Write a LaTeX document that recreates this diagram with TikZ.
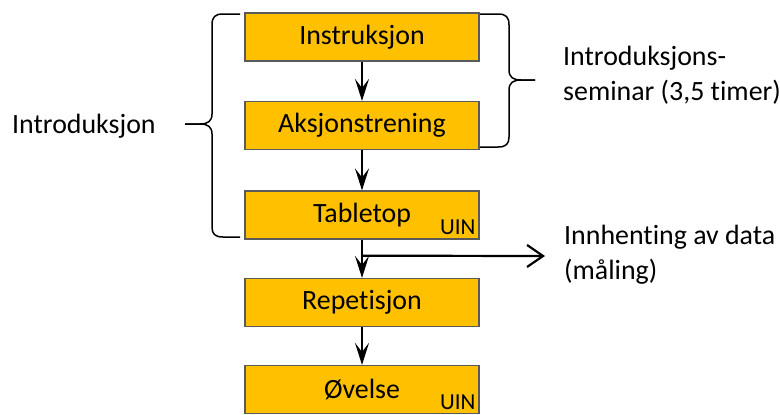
\documentclass[tikz,border=0pt]{standalone}
\usepackage{fontspec}
\setmainfont[Ligatures=NoCommon]{Carlito}
\usetikzlibrary{arrows.meta,calc}
\definecolor{boxfill}{HTML}{FFC000}
\definecolor{boxline}{HTML}{5A5A5A}
\tikzset{
  stepbox/.style={draw=boxline, line width=1.2bp, fill=boxfill,
    minimum width=234bp, minimum height=48bp, inner sep=0pt,
    font=\fontsize{28}{34}\selectfont},
  tag/.style={font=\fontsize{23}{27}\selectfont, anchor=base east, inner sep=0pt},
  flow/.style={line width=2.2bp, -{Stealth[length=22bp, width=14bp, inset=9bp]}},
  branch/.style={line width=2.2bp, -{Straight Barb[length=16bp, width=22bp, line width=2.2bp]}},
  brace/.style={line width=1.5bp, line join=round},
  label/.style={font=\fontsize{28}{35}\selectfont, inner sep=0pt, align=left}
}
\begin{document}
\begin{tikzpicture}[x=1bp, y=-1bp]
  \useasboundingbox (0,0) rectangle (780,414);
  \clip (0,0) rectangle (780,414);

  % process steps
  \node[stepbox] (b1) at (362,37)    {Instruksjon};
  \node[stepbox] (b2) at (362,125.5) {Aksjonstrening};
  \node[stepbox] (b3) at (362,215)   {Tabletop};
  \node[stepbox] (b4) at (362,302.5) {Repetisjon};
  \node[stepbox] (b5) at (362,389.5) {Øvelse};

  % UIN tags in the lower right corners
  \node[tag] (u3) at ($(b3.south east)+(-4,-5)$) {UIN};
  \node[tag] (u5) at ($(b5.south east)+(-4,-5)$) {UIN};

  % flow between the steps
  \draw[flow] (b1.south) -- (b2.north);
  \draw[flow] (b2.south) -- (b3.north);
  \draw[flow] (b3.south) -- (b4.north);
  \draw[flow] (b4.south) -- (b5.north);

  % data collection branch
  \coordinate (br) at ($(b3.south)!0.42!(b4.north)$);
  \coordinate (dataend) at (545,256);
  \draw[branch] (br) -- (dataend);
  % (multi-line nodes sit on the baseline of their last line)
  \node[label, anchor=base west] (data) at (564,279) {Innhenting av data\\(måling)};

  % left brace: introduction
  \draw[brace] (240,14) -- (223,14) .. controls (215,14) and (212,17) .. (212,25)
    -- (212,114) .. controls (212,121) and (208,124) .. (200,124) -- (185,124);
  \draw[brace] (185,124) -- (200,124) .. controls (208,124) and (212,127) .. (212,134)
    -- (212,227) .. controls (212,234) and (215,237) .. (223,237) -- (240,237);
  \node[label, anchor=base west] (intro) at (12,133) {Introduksjon};

  % right brace: seminar
  \draw[brace] (480,14) -- (498,14) .. controls (506,14) and (509,17) .. (509,25)
    -- (509,70) .. controls (509,77) and (513,80) .. (521,80) -- (535,80);
  \draw[brace] (535,80) -- (521,80) .. controls (513,80) and (509,83) .. (509,90)
    -- (509,137) .. controls (509,144) and (506,147) .. (498,147) -- (480,147);
  \node[label, anchor=base west] (seminar) at (563,100) {Introduksjons-\\seminar (3,5 timer)};
\end{tikzpicture}
\end{document}
